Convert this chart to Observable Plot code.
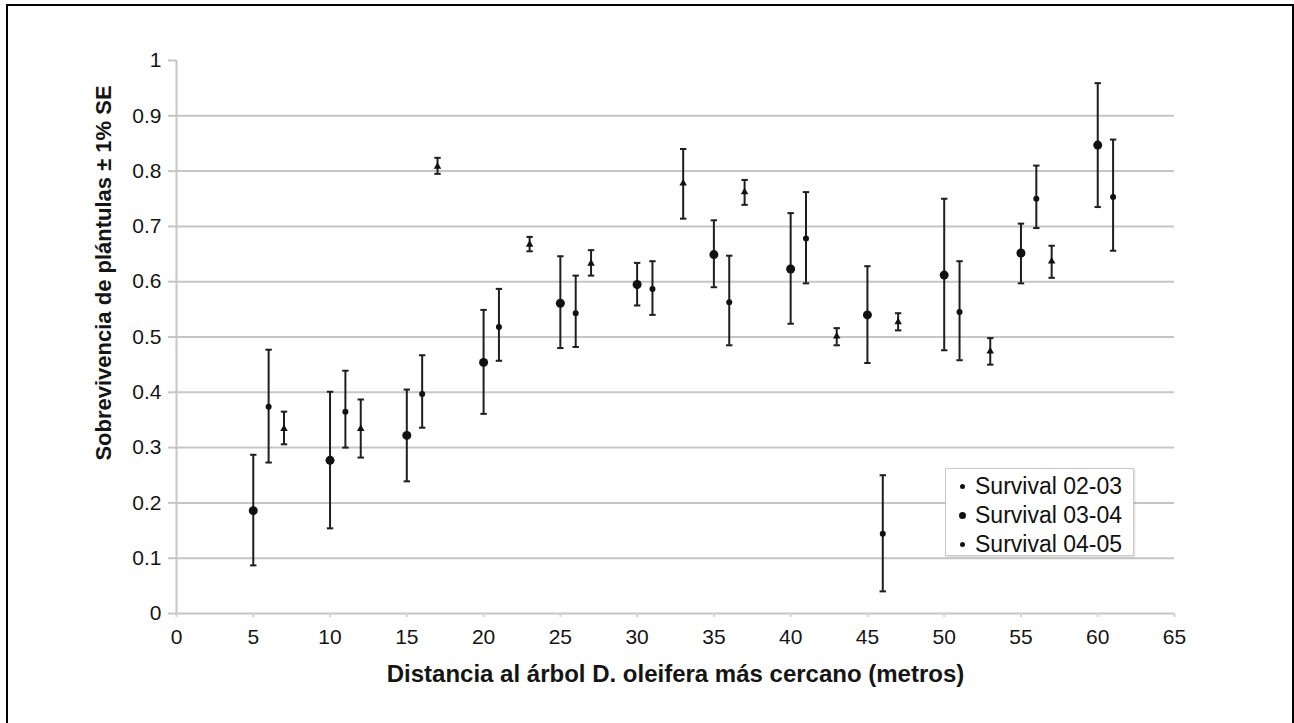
<!DOCTYPE html>
<html>
<head>
<meta charset="utf-8">
<script src="https://cdn.jsdelivr.net/npm/d3@7"></script>
<script src="https://cdn.jsdelivr.net/npm/@observablehq/plot@0.6"></script>
<style>
  html, body { margin: 0; padding: 0; background: #fff; overflow: hidden; }
  #wrap { position: relative; width: 1294px; height: 723px; font-family: "Liberation Sans", Arial, sans-serif; }
  #frame { position: absolute; left: 6px; top: 4px; width: 1284px; height: 760px; border: 2px solid #000; border-bottom: none; pointer-events: none; }
  #chart { position: absolute; left: 0; top: 0; }
  #legend { position: absolute; left: 945px; top: 468px; width: 187px; height: 86px; border: 1px solid #c8c8c8; background: #fff; box-shadow: 1px 1px 2px rgba(0,0,0,0.15); }
  .row { position: absolute; left: 0; height: 28px; line-height: 28px; font-size: 23px; color: #111; white-space: nowrap; }
  .row .mk { display: inline-block; position: absolute; background: #111; border-radius: 50%; }
  .row .tx { position: absolute; left: 29px; top: 0; }
</style>
</head>
<body>
<div id="wrap">
  <div id="chart"></div>
  <div id="legend"></div>
  <div id="frame"></div>
</div>
<script>
// ---- data ----
const seriesNames = ["Survival 02-03", "Survival 03-04", "Survival 04-05"];

const dist0203 = [6, 11, 16, 21, 26, 31, 36, 41, 46, 51, 56, 61];
const mean0203 = [0.374, 0.365, 0.397, 0.518, 0.543, 0.587, 0.563, 0.678, 0.144, 0.545, 0.750, 0.753];
const lo0203   = [0.273, 0.300, 0.336, 0.457, 0.482, 0.540, 0.485, 0.597, 0.040, 0.458, 0.697, 0.656];
const hi0203   = [0.477, 0.439, 0.467, 0.587, 0.611, 0.637, 0.647, 0.762, 0.250, 0.637, 0.810, 0.857];

const dist0304 = [5, 10, 15, 20, 25, 30, 35, 40, 45, 50, 55, 60];
const mean0304 = [0.186, 0.277, 0.322, 0.454, 0.561, 0.595, 0.649, 0.623, 0.540, 0.612, 0.652, 0.847];
const lo0304   = [0.087, 0.154, 0.239, 0.361, 0.480, 0.557, 0.590, 0.524, 0.453, 0.476, 0.597, 0.735];
const hi0304   = [0.287, 0.401, 0.405, 0.549, 0.646, 0.634, 0.711, 0.724, 0.628, 0.750, 0.705, 0.959];

const dist0405 = [7, 12, 17, 23, 27, 33, 37, 43, 47, 53, 57];
const mean0405 = [0.334, 0.334, 0.808, 0.667, 0.633, 0.778, 0.762, 0.501, 0.527, 0.474, 0.637];
const lo0405   = [0.306, 0.282, 0.795, 0.655, 0.611, 0.714, 0.739, 0.485, 0.512, 0.450, 0.607];
const hi0405   = [0.365, 0.387, 0.824, 0.681, 0.657, 0.840, 0.784, 0.516, 0.543, 0.498, 0.665];

const xTicks = [0, 5, 10, 15, 20, 25, 30, 35, 40, 45, 50, 55, 60, 65];
const yTicks = [0, 0.1, 0.2, 0.3, 0.4, 0.5, 0.6, 0.7, 0.8, 0.9, 1];
const yTickLabels = ["0", "0.1", "0.2", "0.3", "0.4", "0.5", "0.6", "0.7", "0.8", "0.9", "1"];
const yGrid = [0.1, 0.2, 0.3, 0.4, 0.5, 0.6, 0.7, 0.8, 0.9];

const xTitle = "Distancia al árbol D. oleifera más cercano (metros)";
const yTitle = "Sobrevivencia de plántulas ± 1% SE";

// ---- table built from arrays ----
function rowsOf(name, xs, ms, los, his) {
  return xs.map((x, i) => ({series: name, x, y: ms[i], lo: los[i], hi: his[i]}));
}
const s1 = rowsOf(seriesNames[0], dist0203, mean0203, lo0203, hi0203);
const s2 = rowsOf(seriesNames[1], dist0304, mean0304, lo0304, hi0304);
const s3 = rowsOf(seriesNames[2], dist0405, mean0405, lo0405, hi0405);
const all = [...s1, ...s2, ...s3];

const cap = {
  draw(ctx, size) {
    const r = Math.sqrt(size / Math.PI);
    ctx.moveTo(-r, 0);
    ctx.lineTo(r, 0);
  }
};

const grid = "#c6c6c6";
const ink = "#1e1e1e";

const chart = Plot.plot({
  width: 1294,
  height: 723,
  marginLeft: 176,
  marginRight: 120,
  marginTop: 60,
  marginBottom: 110,
  x: {domain: [0, 65]},
  y: {domain: [0, 1]},
  style: {fontFamily: "'Liberation Sans', Arial, sans-serif", background: "transparent", color: "#151515"},
  marks: [
    Plot.gridY(yGrid, {stroke: grid, strokeOpacity: 1, strokeWidth: 2}),
    Plot.ruleX([0], {stroke: grid, strokeWidth: 2}),
    Plot.ruleY([0], {stroke: grid, strokeWidth: 2}),
    Plot.axisY({ticks: yTicks, tickFormat: d => yTickLabels[yTicks.indexOf(d)], tickSize: 8, stroke: grid, strokeWidth: 2, tickPadding: 7, fontSize: 21, fill: "#151515", label: null}),
    Plot.axisX({ticks: xTicks, tickFormat: d => String(d), tickSize: 4, stroke: "#d4d4d4", strokeWidth: 2, tickPadding: 12, fontSize: 21, fill: "#151515", label: null}),
    Plot.text([xTitle], {frameAnchor: "bottom", dy: 68, fontSize: 24, fontWeight: "bold", fill: "#151515"}),
    Plot.text([yTitle], {frameAnchor: "left", textAnchor: "middle", dx: -73, dy: -64, rotate: -90, fontSize: 22, fontWeight: "bold", fill: "#151515"}),
    Plot.ruleX(all, {x: "x", y1: "lo", y2: "hi", stroke: ink, strokeWidth: 2}),
    Plot.dot(all, {x: "x", y: "lo", symbol: cap, r: 3.2, stroke: ink, strokeWidth: 2, fill: "none"}),
    Plot.dot(all, {x: "x", y: "hi", symbol: cap, r: 3.2, stroke: ink, strokeWidth: 2, fill: "none"}),
    Plot.dot(s1, {x: "x", y: "y", r: 3, fill: "#111"}),
    Plot.dot(s2, {x: "x", y: "y", r: 4.5, fill: "#111"}),
    Plot.dot(s3, {x: "x", y: "y", r: 2.8, symbol: "triangle", fill: "#111"})
  ]
});
document.getElementById("chart").appendChild(chart);

// legend
const legend = document.getElementById("legend");
const mkSizes = [5, 7, 5];
seriesNames.forEach((name, i) => {
  const row = document.createElement("div");
  row.className = "row";
  row.style.top = (3 + i * 29) + "px";
  const mk = document.createElement("span");
  mk.className = "mk";
  const s = mkSizes[i];
  mk.style.width = s + "px";
  mk.style.height = s + "px";
  mk.style.left = (16 - s / 2) + "px";
  mk.style.top = (14 - s / 2) + "px";
  const tx = document.createElement("span");
  tx.className = "tx";
  tx.textContent = name;
  row.appendChild(mk);
  row.appendChild(tx);
  legend.appendChild(row);
});
</script>
</body>
</html>
